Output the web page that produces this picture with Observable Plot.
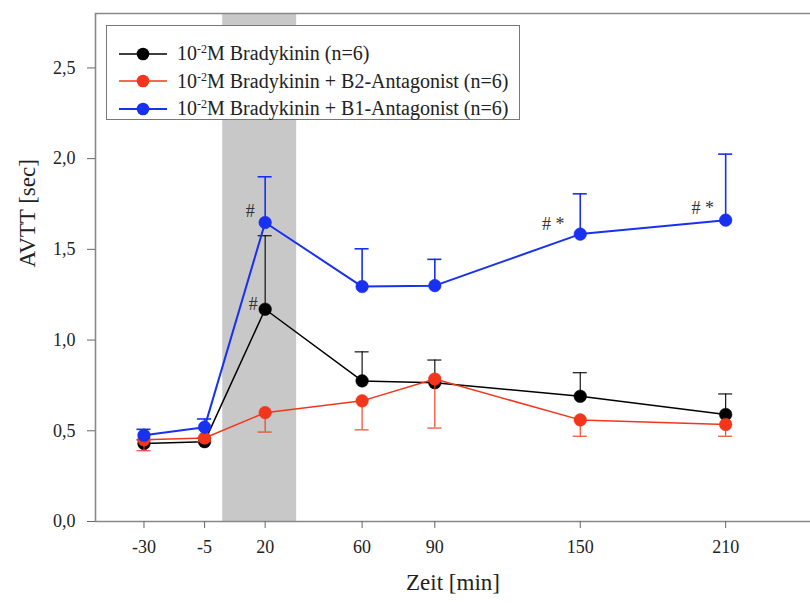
<!DOCTYPE html>
<html>
<head>
<meta charset="utf-8">
<script src="https://cdn.jsdelivr.net/npm/d3@7"></script>
<script src="https://cdn.jsdelivr.net/npm/@observablehq/plot@0.6"></script>
<style>
  html, body { margin: 0; padding: 0; background: #fff; }
  #wrap { position: relative; width: 810px; height: 603px; font-family: "Liberation Serif", "Times New Roman", serif; }
  #legend { position: absolute; left: 106px; top: 25px; width: 412px; height: 93px; border: 1.5px solid #777; background: #fff; box-sizing: content-box; }
  .row { position: absolute; left: 0; height: 27px; display: flex; align-items: center; font-size: 20px; color: #222; white-space: nowrap; }
  .row svg { margin-left: 12px; margin-right: 10px; }
  sup { font-size: 12px; vertical-align: 0; position: relative; top: -7px; }
</style>
</head>
<body>
<div id="wrap"><div id="chart"></div><div id="legend"></div></div>
<script>
// ---- data ----
const times = [-30, -5, 20, 60, 90, 150, 210];
const xTicks = [-30, -5, 20, 60, 90, 150, 210];
const yTicks = [0, 0.5, 1.0, 1.5, 2.0, 2.5];

const seriesNames = [
  "Bradykinin (n=6)",
  "Bradykinin + B2-Antagonist (n=6)",
  "Bradykinin + B1-Antagonist (n=6)"
];
const bradykinin   = [0.43, 0.44, 1.17, 0.775, 0.765, 0.69, 0.59];
const bradykininSD = [0.02, 0.02, 0.405, 0.16, 0.125, 0.13, 0.113];
const b2Antagonist   = [0.45, 0.46, 0.60, 0.665, 0.785, 0.56, 0.535];
const b2AntagonistSD = [0.06, 0.02, 0.107, 0.16, 0.27, 0.09, 0.065];
const b1Antagonist   = [0.475, 0.52, 1.648, 1.295, 1.30, 1.584, 1.661];
const b1AntagonistSD = [0.033, 0.045, 0.252, 0.208, 0.145, 0.222, 0.364];

const stimulusStart = 2.5, stimulusEnd = 33;   // shaded stimulation period [min]

const annotationLabels = ["#", "#", "# *", "# *"];
const annotationSeries = [2, 0, 2, 2];
const annotationTimes  = [20, 20, 150, 210];

// ---- styling ----
const colors = ["#000000", "#f2361c", "#1830f0"];
const errDir = [1, -1, 1];
const lineWidths = [1.5, 1.5, 2];
const annotationOffsets = [[-15, -11], [-12, -5], [-27, -10], [-23, -12]];

const means = [bradykinin, b2Antagonist, b1Antagonist];
const sds = [bradykininSD, b2AntagonistSD, b1AntagonistSD];
const rows = [];
means.forEach((arr, s) => arr.forEach((v, i) => rows.push({
  s, t: times[i], v, e: v + errDir[s] * sds[s][i]
})));
const annotations = annotationLabels.map((label, i) => {
  const s = annotationSeries[i], t = annotationTimes[i];
  return {label, t, v: means[s][times.indexOf(t)], dx: annotationOffsets[i][0], dy: annotationOffsets[i][1]};
});

const capHalf = 2.9; // half cap width in minutes
const fmt = d => d.toFixed(1).replace(".", ",");

const marks = [
  Plot.rect([{x1: stimulusStart, x2: stimulusEnd}], {x1: "x1", x2: "x2", y1: 0, y2: 2.8, fill: "#c8c8c8"}),
  Plot.ruleY([2.8], {stroke: "#888", strokeWidth: 1.6}),
  Plot.ruleX([-50], {stroke: "#888", strokeWidth: 1.6}),
  Plot.ruleY([0], {stroke: "#888", strokeWidth: 1.6}),
  Plot.axisX({ticks: xTicks, tickSize: 7, tickPadding: 12, tickFormat: d => String(d), fontSize: 18, stroke: "#666", color: "#222", label: null}),
  Plot.axisY({ticks: yTicks, tickSize: 8, tickPadding: 12, tickFormat: fmt, fontSize: 18, stroke: "#666", color: "#222", label: null}),
  Plot.text(["AVTT [sec]"], {text: d => d, frameAnchor: "left", dx: -68, rotate: -90, fontSize: 23, fill: "#222"}),
  Plot.text(["Zeit [min]"], {text: d => d, frameAnchor: "bottom", dy: 68, fontSize: 23, fill: "#222"})
];
[0, 1, 2].forEach(s => {
  const d = rows.filter(r => r.s === s);
  const w = s === 2 ? 1.6 : 1.1;
  marks.push(
    Plot.ruleX(d, {x: "t", y1: "v", y2: "e", stroke: colors[s], strokeWidth: w}),
    Plot.ruleY(d, {y: "e", x1: r => r.t - capHalf, x2: r => r.t + capHalf, stroke: colors[s], strokeWidth: w}),
    Plot.line(d, {x: "t", y: "v", stroke: colors[s], strokeWidth: lineWidths[s]}),
    Plot.dot(d, {x: "t", y: "v", r: 6.3, fill: colors[s], stroke: colors[s], strokeWidth: 0.5})
  );
});
annotations.forEach(a => marks.push(Plot.text([a], {x: "t", y: "v", text: "label", dx: a.dx, dy: a.dy, fontSize: 18, fill: "#333"})));

const chart = Plot.plot({
  width: 810,
  height: 603,
  marginLeft: 95,
  marginRight: 0,
  marginTop: 13,
  marginBottom: 82,
  x: {domain: [-50, 245]},
  y: {domain: [0, 2.8]},
  style: {fontFamily: "'Liberation Serif', 'Times New Roman', serif", background: "#fff"},
  marks
});
document.getElementById("chart").appendChild(chart);

// ---- legend ----
const legend = document.getElementById("legend");
seriesNames.forEach((name, i) => {
  const row = document.createElement("div");
  row.className = "row";
  row.style.top = (14 + i * 27.5) + "px";
  row.innerHTML = `<svg width="48" height="14"><line x1="0" y1="7" x2="48" y2="7" stroke="${colors[i]}" stroke-width="${lineWidths[i]}"/><circle cx="24" cy="7" r="6.3" fill="${colors[i]}"/></svg><span>10<sup>-2</sup>M ${name}</span>`;
  legend.appendChild(row);
});
</script>
</body>
</html>
